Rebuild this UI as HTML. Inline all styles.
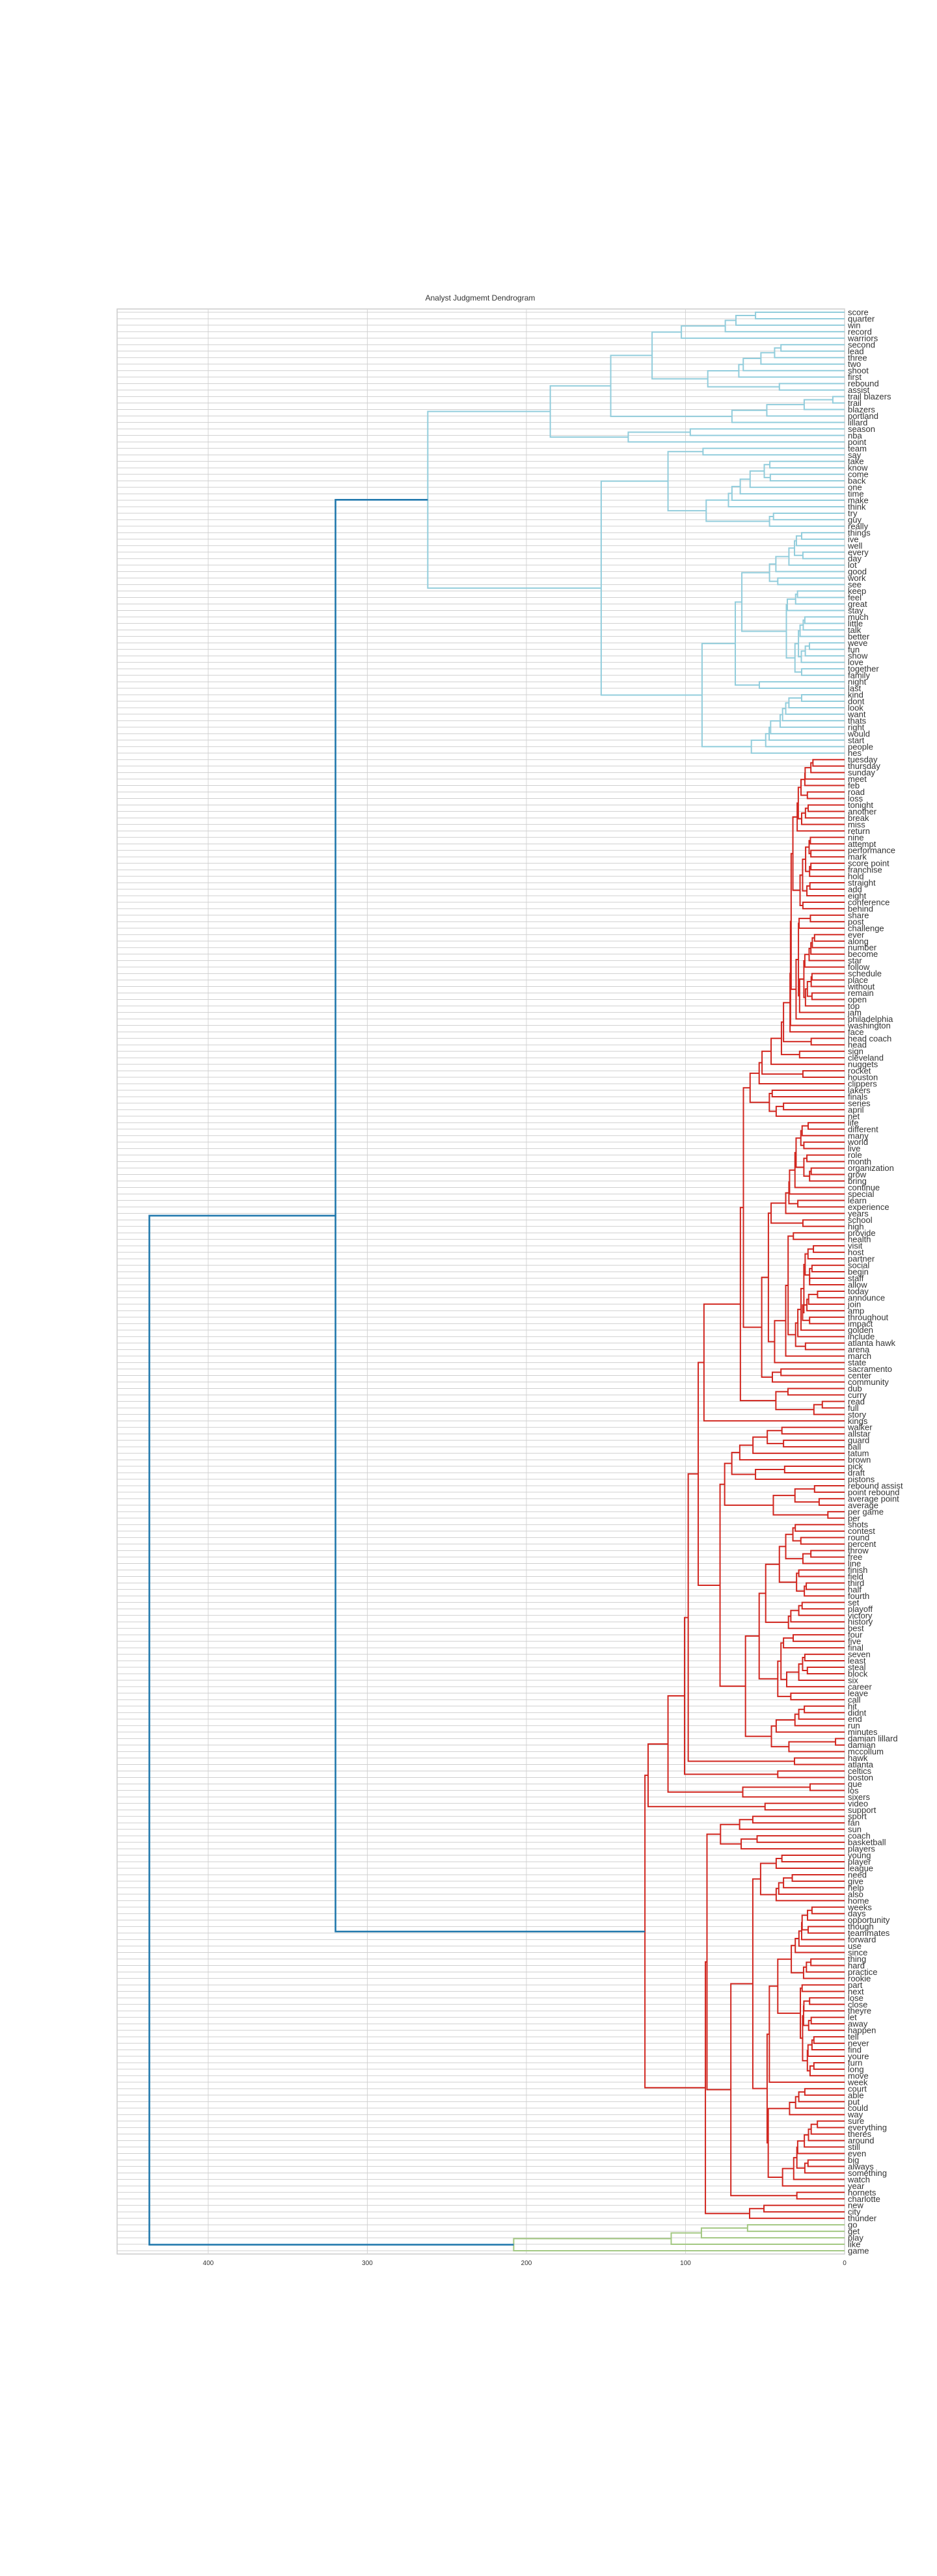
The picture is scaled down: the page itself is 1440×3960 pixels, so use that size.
<!DOCTYPE html>
<html><head><meta charset="utf-8"><title>Analyst Judgmemt Dendrogram</title>
<style>
html,body{margin:0;padding:0;background:#fff;}
svg{display:block;font-family:"Liberation Sans",sans-serif;}
</style></head>
<body>
<svg id="chart" width="1440" height="3960" viewBox="0 0 1440 3960" xmlns="http://www.w3.org/2000/svg">
<rect x="0" y="0" width="1440" height="3960" fill="#fff"/>
<text x="738" y="462" text-anchor="middle" font-size="12" fill="#333">Analyst Judgmemt Dendrogram</text>
<g id="grid"></g>
<g id="links"></g>
<g id="labels"></g>
<g id="axis"></g>
</svg>
<script>
const tickValues = [0, 100, 200, 300, 400];
const tickLabels = ["0", "100", "200", "300", "400"];

// ---- tree data: [height, left, right, colorGroup?] ----
const A = [185,
  [147,
    [121,
      [102.6,[75,[68.3,[56,"score","quarter"],"win"],"record"],"warriors"],
      [86,[66.5,[63.7,[52.6,[44,[40,"second","lead"],"three"],"two"],"shoot"],"first"],[41,"rebound","assist"]]],
    [70.8,[48.9,[25.4,[7.4,"trail blazers","trail"],"blazers"],"portland"],"lillard"]],
  [136,[97,"season","nba"],"point"]];
const B1 = [111, [89,"team","say"], [87, [73,[70.8,[65.6,[59.4,[50.5,[47,"take","know"],[46.7,"come","back"]],"one"],"time"],"make"],"think"], [47.2,[44.7,"try","guy"],"really"]]];
const goodGroup = [47.2, [43.2, [35,[31.5,[30.3,[27,"things","ive"],"well"],[26.2,"every","day"]],"lot"],"good"], [42,"work","see"]];
const keepGroup = [36.6, [36,[30.8,[29.6,"keep","feel"],"great"],"stay"], [31.2, [29, [28,[26,[25,"much","little"],"talk"],"better"], [27.2,[24.7,[22.1,"weve","fun"],"show"],"love"]], [27,"together","family"]]];
const G2 = [68.7, [64.6, goodGroup, keepGroup], [53.6,"night","last"]];
const kindGroup = [58.6, [49.6, [47.4, [46.5, [40.5, [39,[37,[35,[27,"kind","dont"],"look"],"want"],"thats"], "right"], "would"], "start"], "people"], "hes"];
const B = [153, B1, [89.6, G2, kindGroup]];
const cyanTree = [262, A, B, "c"];

const tueGroup = [29.8, [29.1, [27.4, [25,[24.8,[21.2,[19.9,"tuesday","thursday"],"sunday"],"meet"],"feb"], [23.4,"road","loss"]], [27,[24.6,[22.9,"tonight","another"],"break"],"miss"]], "return"];
const nineGroup = [26.4, [24.5, [22.3,[21.5,"nine","attempt"],[21.2,"performance","mark"]], [22,[21.2,"score point","franchise"],"hold"]], [23.7,[21.8,"straight","add"],"eight"]];
const T1 = [32.5, tueGroup, [28, nineGroup, [26.2,"conference","behind"]]];
const everGroup = [25.6, [25,[22.3,[21.2,[20.3,[18.9,"ever","along"],"number"],"become"],"star"],"follow"], [24.6,[23.4,[21,[20.5,"schedule","place"],"without"],[20.5,"remain","open"]],"top"]];
const X1 = [30.5, [29, [28.6,[21.5,"share","post"],"challenge"], [28.3, everGroup, "jam"]], "philadelphia"];
const TN = [59.4, [53.7, [51.9, [46.2, [39.7, [38.4, [34.3, [34, [33.6, T1, X1], "washington"], "face"], [21,"head coach","head"]], [28.3,"sign","cleveland"]], "nuggets"], [26.2,"rocket","houston"]], "clippers"], [47.3,[45.5,"lakers","finals"],[43,[38.4,"series","april"],"net"]]];
const lifeGroup = [46.2, [37, [35, [34.6, [31.2, [30.5, [27.5,[26.7,[22.9,"life","different"],"many"],[25.6,"world","live"]], [25.6,[23.7,"role","month"],[22,[21,"organization","grow"],"bring"]]], "continue"], "special"], [29.4,"learn","experience"]], "years"], [26.2,"school","high"]];
const visitGroup = [25.6, [24.8,[23,[19.6,"visit","host"],"partner"],[22,[20.5,"social","begin"],[22,"staff","allow"]]], [26.4, [23.7,[22.6,[17,"today","announce"],"join"],"amp"],[22,"throughout","impact"]]];
const provGroup = [44, [37, [35.5, [32.2,"provide","health"], [30.8, [29.4,[27.4, visitGroup, "golden"],"include"], [24.6,"atlanta hawk","arena"]]], "march"], "state"];
const L = [52.1, [47.9, lifeGroup, provGroup], [45.4,[40,"sacramento","center"],"community"]];
const dubGroup = [43.2,[35.6,"dub","curry"],[19.3,[14,"read","full"],"story"]];
const U1 = [88.4, [65.5, [63.6, TN, L], dubGroup], "kings"];
const walkerGroup = [65.9, [57.6,[48.6,[39.4,"walker","allstar"],[38.4,"guard","ball"]],"tatum"],"brown"];
const pickGroup = [56, [37.7,"pick","draft"],"pistons"];
const rebGroup = [44.8,[31.2,[18.9,"rebound assist","point rebound"],[16,"average point","average"]],[10.5,"per game","per"]];
const shotsGroup = [53.7, [49.6, [41, [37, [32.5,[31,"shots","contest"],[27.5,"round","percent"]], [26.2,[21.2,"throw","free"],"line"]], [30.2,[28.8,"finish","field"],[25.3,[24.1,"third","half"],"fourth"]]], [35.3,[33.8,[28.8,[26.7,"set","playoff"],"victory"],"history"],"best"]], [42, [40, [38.4,[32.3,"four","five"],"final"], [36.4,[28.8,[26.4,[25,"seven","least"],[23.4,"steal","block"]],"six"],"career"]], [33.8,"leave","call"]]];
const hitGroup = [46, [43,[31.2,[28.8,[25.3,"hit","didnt"],"end"],"run"],"minutes"], [35,[5.7,"damian lillard","damian"],"mccollum"]];
const S = [78.3, [75.4, [70.9, walkerGroup, pickGroup], rebGroup], [62.3, shotsGroup, hitGroup]];
const U2 = [92, U1, S];
const U = [123.5, [111, [100.6, [98.3, U2, [31.5,"hawk","atlanta"]], [42,"celtics","boston"]], [64,[21.7,"que","los"],"sixers"]], [50,"video","support"]];
const youngGroup = [52.8, [43,[39.4,"young","player"],"league"], [43,[41.4,[38.4,[32.9,"need","give"],"help"],"also"],"home"]];
const partGroup = [27.8, [26.7,"part","next"], [26.4, [25.8,[25.6,[22,"lose","close"],"theyre"],[22.6,[21,"let","away"],"happen"]], [23.4,[23,[20.5,[19.3,"tell","never"],"find"],"youre"],[21.7,[19.3,"turn","long"],"move"]]]];
const weeksGroup = [33.5, [31, [28.7,[27,[26.7,[23.3,[20.5,"weeks","days"],"opportunity"],[22.9,"though","teammates"]],"forward"],"use"], "since"], [25.8,[24,[21.2,"thing","hard"],"practice"],"rookie"]];
const weekG = [47.3, [42, weeksGroup, partGroup], "week"];
const C1 = [34.6, [30.8,[28.8,[25,"court","able"],"put"],"could"],"way"];
const C2 = [30, [29.5, [25.3,[22.7,[21,[17.1,"sure","everything"],"theres"],"around"],"still"],"even"], [25,[23,"big","always"],"something"]];
const Cg = [48, C1, [39, [32, C2, "watch"], "year"]];
const X = [57.7, youngGroup, [48.7, weekG, Cg]];
const LR = [87.5, [86.5, [78, [66,[57.7,"sport","fan"],"sun"],[65,[55,"coach","basketball"],"players"]], [71.5, X, [30,"hornets","charlotte"]]], [59.7,[50.7,"new","city"],"thunder"]];
const redTree = [125.5, U, LR, "r"];
const greenTree = [208, [109, [90, [61,"go","get"], "play"], "like"], "game", "g"];
const tree = [437, [320, cyanTree, redTree], greenTree, "b"];

// ---- layout ----
const X0 = 1298, PX_PER_UNIT = 2.445, PLOT_L = 180, PLOT_T = 475, PLOT_B = 3465;
const colors = {c:"#92cddc", r:"#d1261f", g:"#a3c882", b:"#2279ad"};
const NS = "http://www.w3.org/2000/svg";
function xs(v){ return X0 - v * PX_PER_UNIT; }

const leaves = [];
(function collect(n){ if (typeof n === "string") { leaves.push(n); return; } collect(n[1]); collect(n[2]); })(tree);
const firstY = 480, lastY = 3460;
const step = (lastY - firstY) / (leaves.length - 1);
function ys(i){ return firstY + i * step; }

const grid = document.getElementById("grid");
const links = document.getElementById("links");
const labels = document.getElementById("labels");
const axis = document.getElementById("axis");

const frame = document.createElementNS(NS, "rect");
frame.setAttribute("x", PLOT_L); frame.setAttribute("y", PLOT_T);
frame.setAttribute("width", X0 - PLOT_L); frame.setAttribute("height", PLOT_B - PLOT_T);
frame.setAttribute("fill", "none"); frame.setAttribute("stroke", "#cccccc"); frame.setAttribute("stroke-width", "1.5");


grid.appendChild(frame);

tickValues.forEach((v, i) => {
  const ln = document.createElementNS(NS, "line");
  ln.setAttribute("x1", xs(v)); ln.setAttribute("x2", xs(v));
  ln.setAttribute("y1", PLOT_T); ln.setAttribute("y2", PLOT_B);
  ln.setAttribute("stroke", "#d6d6d6"); ln.setAttribute("stroke-width", "1");
  
  
  grid.appendChild(ln);
  const t = document.createElementNS(NS, "text");
  t.setAttribute("x", xs(v)); t.setAttribute("y", 3482);
  t.setAttribute("text-anchor", "middle"); t.setAttribute("font-size", "10"); t.setAttribute("fill", "#333");
  t.textContent = tickLabels[i];
  
  
  axis.appendChild(t);
});

leaves.forEach((name, i) => {
  const ln = document.createElementNS(NS, "line");
  ln.setAttribute("x1", PLOT_L); ln.setAttribute("x2", X0);
  ln.setAttribute("y1", ys(i)); ln.setAttribute("y2", ys(i));
  ln.setAttribute("stroke", "#cfcfcf"); ln.setAttribute("stroke-width", "1");
  
  
  grid.appendChild(ln);
  const t = document.createElementNS(NS, "text");
  t.setAttribute("x", 1303); t.setAttribute("y", ys(i) + 4.5);
  t.setAttribute("font-size", "13"); t.setAttribute("fill", "#333");
  t.textContent = name;
  
  
  labels.appendChild(t);
});

let leafIdx = 0;
function colorOf(n){ return (Array.isArray(n) && n[3]) ? colors[n[3]] : colors.b; }
function draw(n, color){
  if (typeof n === "string") { const y = ys(leafIdx++); return {x: xs(0), y: y}; }
  const c = n[3] ? colors[n[3]] : color;
  const childColor = n[3] === "b" ? null : c;
  const a = draw(n[1], childColor || colorOf(n[1]));
  const b = draw(n[2], childColor || colorOf(n[2]));
  const xh = xs(n[0]);
  const p = document.createElementNS(NS, "path");
  p.setAttribute("d", `M${a.x},${a.y}H${xh}V${b.y}H${b.x}`);
  p.setAttribute("fill", "none");
  p.setAttribute("stroke", c);
  p.setAttribute("stroke-width", n[0] > 300 ? "2.6" : "2");
  
  
  links.appendChild(p);
  return {x: xh, y: (a.y + b.y) / 2};
}
draw(tree, colors.b);
</script>
</body></html>
